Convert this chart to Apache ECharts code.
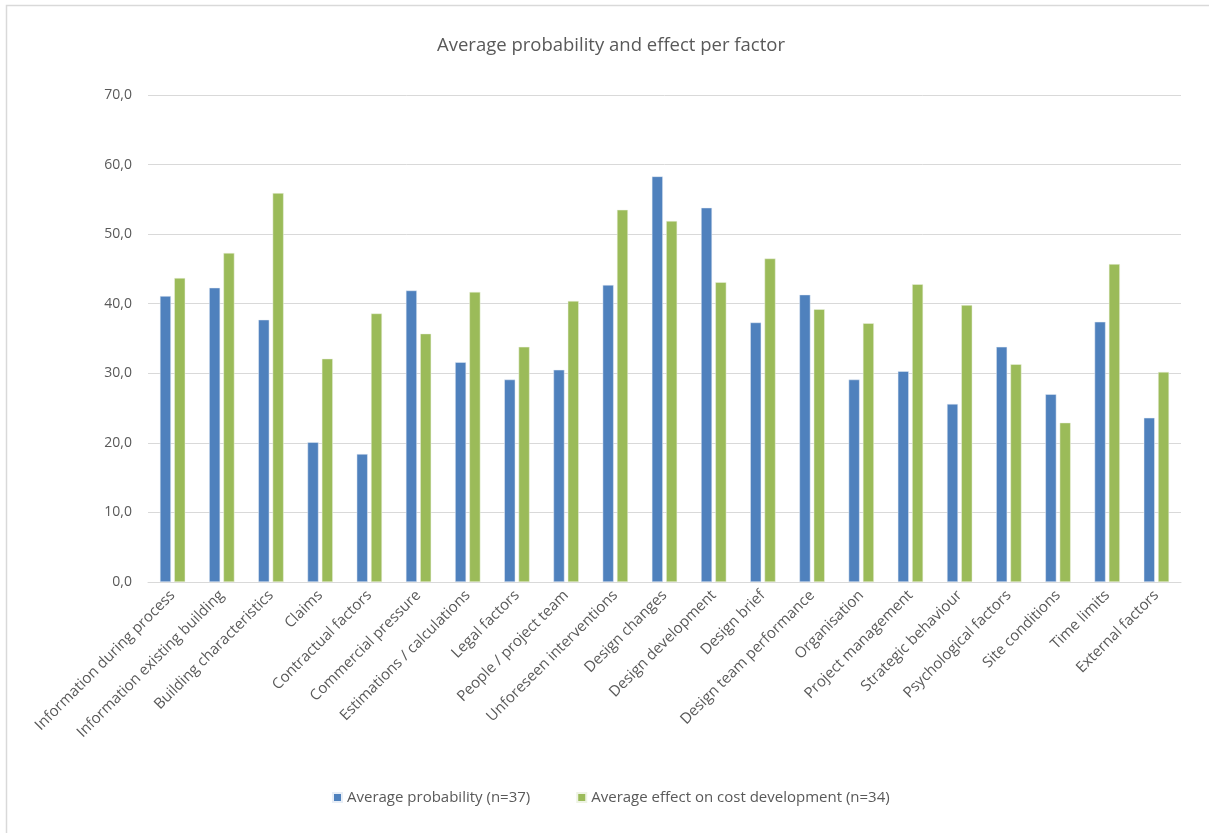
<!DOCTYPE html>
<html>
<head>
<meta charset="utf-8">
<script src="https://cdn.jsdelivr.net/npm/echarts@6/dist/echarts.min.js"></script>
<style>
  html, body { margin: 0; padding: 0; background: #ffffff; }
  #chart { width: 1209px; height: 833px; }
</style>
</head>
<body>
<div id="chart"></div>
<script>
// Factors influencing cost development
const categories = [
  'Information during process', 'Information existing building', 'Building characteristics',
  'Claims', 'Contractual factors', 'Commercial pressure', 'Estimations / calculations',
  'Legal factors', 'People / project team', 'Unforeseen interventions', 'Design changes',
  'Design development', 'Design brief', 'Design team performance', 'Organisation',
  'Project management', 'Strategic behaviour', 'Psychological factors', 'Site conditions',
  'Time limits', 'External factors'
];

const probabilityName = 'Average probability (n=37)';
const effectName = 'Average effect on cost development (n=34)';

const probability = [41.1, 42.3, 37.7, 20.1, 18.4, 41.9, 31.6, 29.1, 30.5, 42.7, 58.3,
  53.8, 37.3, 41.3, 29.1, 30.3, 25.6, 33.8, 27.0, 37.4, 23.6];
const effect = [43.7, 47.3, 55.9, 32.1, 38.6, 35.7, 41.7, 33.8, 40.4, 53.5, 51.9,
  43.1, 46.5, 39.2, 37.2, 42.8, 39.8, 31.3, 22.9, 45.7, 30.2];

const yTicks = { min: 0, max: 70, interval: 10 };

const textColor = '#595959';
const fontFamily = '"Open Sans", Lato, "Noto Sans", sans-serif';

const chart = echarts.init(document.getElementById('chart'), null, { renderer: 'canvas' });

chart.setOption({
  backgroundColor: '#ffffff',
  animation: false,
  textStyle: { fontFamily: fontFamily, color: textColor },
  title: {
    text: 'Average probability and effect per factor',
    left: 432,
    top: 31,
    textStyle: { fontFamily: fontFamily, fontSize: 18.5, fontWeight: 'normal', color: textColor }
  },
  legend: {
    top: 785,
    left: 327,
    itemWidth: 9,
    itemHeight: 9,
    itemGap: 46,
    icon: 'rect',
    textStyle: { fontFamily: fontFamily, fontSize: 15, color: textColor, padding: [0, 0, 0, 0] },
    data: [probabilityName, effectName]
  },
  grid: { left: 148, right: 28, top: 95, bottom: 251, containLabel: false },
  xAxis: {
    type: 'category',
    data: categories,
    axisLine: { lineStyle: { color: '#d9d9d9', width: 1 } },
    axisTick: { show: false },
    axisLabel: {
      rotate: 45,
      interval: 0,
      margin: 11,
      fontFamily: fontFamily,
      fontSize: 15,
      color: textColor
    }
  },
  yAxis: {
    type: 'value',
    min: yTicks.min,
    max: yTicks.max,
    interval: yTicks.interval,
    axisLine: { show: false },
    axisTick: { show: false },
    splitLine: { lineStyle: { color: '#d9d9d9', width: 1 } },
    axisLabel: {
      margin: 16,
      fontFamily: fontFamily,
      fontSize: 14,
      color: textColor,
      formatter: v => v.toFixed(1).replace('.', ',')
    }
  },
  series: [
    {
      name: probabilityName,
      type: 'bar',
      data: probability,
      barWidth: 11,
      barGap: '30%',
      itemStyle: { color: '#4F81BD', borderColor: '#e8eef6', borderWidth: 0.5 }
    },
    {
      name: effectName,
      type: 'bar',
      data: effect,
      barWidth: 11,
      barGap: '30%',
      itemStyle: { color: '#9BBB59', borderColor: '#eef3e4', borderWidth: 0.5 }
    }
  ],
  graphic: [
    {
      type: 'polyline',
      silent: true,
      shape: { points: [[6.5, 833], [6.5, 5.5], [1209, 5.5]] },
      style: { stroke: '#d9d9d9', lineWidth: 1.5, fill: null }
    }
  ]
});
</script>
</body>
</html>
